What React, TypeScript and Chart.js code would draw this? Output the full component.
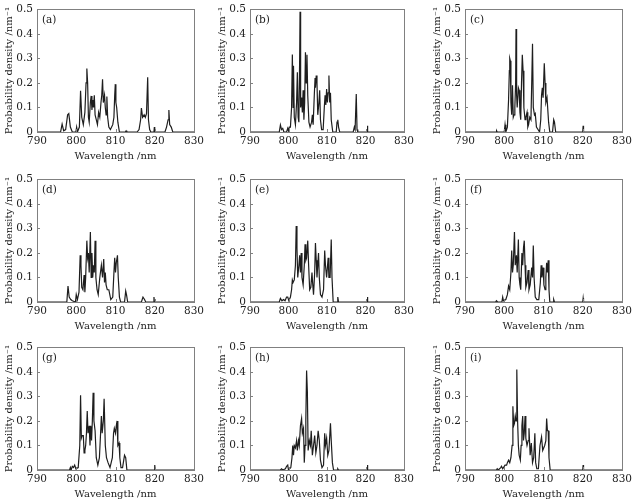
import { useEffect, useRef } from 'react';
import { Chart, registerables } from 'chart.js';

Chart.register(...registerables);

// Axis ticks shared by all nine panels
const X_TICKS = [790, 800, 810, 820, 830];
const Y_TICKS = [0, 0.1, 0.2, 0.3, 0.4, 0.5];
const PANEL_LABELS = ['(a)', '(b)', '(c)', '(d)', '(e)', '(f)', '(g)', '(h)', '(i)'];
const X_TITLE = 'Wavelength /nm';
const Y_TITLE = 'Probability density /nm\u207B\u00B9';

// Spectra: [wavelength in nm, probability density in nm^-1]
const spectrumA: [number, number][] = [
  [790, 0], [796.0, 0], [796.4, 0.032], [796.8, 0.005], [797.3, 0.01], [797.8, 0.07], [798.1, 0.075], [798.5, 0.02], [799.0, 0],
  [799.9, 0], [800.1, 0.02], [800.3, 0], [800.8, 0.02], [801.1, 0.168], [801.4, 0.06], [801.8, 0.03], [802.2, 0.08], [802.5, 0.2],
  [802.7, 0.259], [802.9, 0.2], [803.1, 0.06], [803.3, 0.04], [803.6, 0.12], [803.8, 0.147], [804.0, 0.09], [804.2, 0.13], [804.4, 0.1],
  [804.6, 0.15], [804.8, 0.07], [805.1, 0.05], [805.4, 0.03], [805.7, 0.08], [806.0, 0.06], [806.3, 0.12], [806.5, 0.15], [806.7, 0.215],
  [806.9, 0.12], [807.2, 0.15], [807.4, 0.1], [807.6, 0.07], [807.8, 0.145], [808.0, 0.06], [808.3, 0.02], [808.7, 0.01], [809.3, 0.03],
  [809.6, 0.06], [809.8, 0.15], [809.95, 0.195], [810.1, 0.12], [810.3, 0.1], [810.6, 0.04], [811.0, 0], [812.5, 0], [812.7, 0.005],
  [812.9, 0], [815.5, 0], [816.0, 0.01], [816.4, 0.05], [816.6, 0.098], [816.9, 0.06], [817.3, 0.07], [817.6, 0.06], [817.9, 0.075],
  [818.2, 0.223], [818.4, 0.05], [818.7, 0.01], [819.0, 0], [819.8, 0], [819.9, 0.02], [820.0, 0], [822.6, 0], [823.0, 0.02],
  [823.4, 0.05], [823.6, 0.09], [823.8, 0.03], [824.2, 0.02], [824.6, 0], [830, 0],
];

const spectrumB: [number, number][] = [
  [790, 0], [797.6, 0], [797.9, 0.029], [798.2, 0.01], [798.5, 0.015], [798.8, 0], [799.5, 0], [799.8, 0.015], [800.0, 0.005],
  [800.2, 0.02], [800.5, 0.02], [800.8, 0.1], [801.0, 0.316], [801.2, 0.1], [801.3, 0.27], [801.5, 0.06], [801.8, 0.03], [802.1, 0.12],
  [802.3, 0.243], [802.5, 0.06], [802.7, 0.04], [802.9, 0.3], [803.0, 0.49], [803.15, 0.1], [803.4, 0.14], [803.6, 0.08], [803.8, 0.17],
  [804.0, 0.05], [804.2, 0.12], [804.4, 0.325], [804.6, 0.2], [804.8, 0.315], [805.0, 0.15], [805.3, 0.04], [805.6, 0.02], [806.0, 0.04],
  [806.2, 0.07], [806.4, 0.03], [806.7, 0.15], [806.9, 0.22], [807.0, 0.18], [807.2, 0.23], [807.4, 0.2], [807.6, 0.07], [807.9, 0.12],
  [808.1, 0.17], [808.3, 0.05], [808.6, 0.01], [809.0, 0.01], [809.3, 0.1], [809.5, 0.15], [809.7, 0.11], [809.9, 0.175], [810.1, 0.12],
  [810.3, 0.16], [810.5, 0.23], [810.7, 0.12], [810.9, 0.16], [811.1, 0.05], [811.5, 0], [812.4, 0], [812.6, 0.04], [812.8, 0.05],
  [813.0, 0.02], [813.3, 0], [816.8, 0], [817.1, 0.02], [817.3, 0.01], [817.6, 0.155], [817.8, 0.01], [818.0, 0], [820.4, 0],
  [820.5, 0.025], [820.6, 0], [830, 0],
];

const spectrumC: [number, number][] = [
  [790, 0], [797.9, 0], [798.05, 0.005], [798.2, 0], [800.0, 0], [800.2, 0.03], [800.4, 0], [800.8, 0.02], [801.1, 0.13],
  [801.3, 0.25], [801.4, 0.3], [801.55, 0.29], [801.7, 0.12], [801.9, 0.07], [802.1, 0.19], [802.3, 0.06], [802.5, 0.07], [802.7, 0.1],
  [802.9, 0.2], [803.0, 0.42], [803.15, 0.15], [803.3, 0.1], [803.6, 0.18], [803.8, 0.17], [804.0, 0.08], [804.2, 0.05], [804.4, 0.2],
  [804.6, 0.315], [804.8, 0.25], [805.0, 0.1], [805.3, 0.05], [805.5, 0.06], [805.8, 0.08], [806.0, 0.02], [806.2, 0.03], [806.5, 0.06],
  [806.8, 0.05], [807.0, 0.2], [807.2, 0.36], [807.4, 0.1], [807.7, 0.07], [807.9, 0.075], [808.2, 0.02], [808.6, 0.01], [809.0, 0],
  [809.3, 0.05], [809.5, 0.15], [809.7, 0.18], [809.9, 0.14], [810.2, 0.28], [810.4, 0.2], [810.6, 0.12], [810.9, 0.14], [811.1, 0.14],
  [811.3, 0.04], [811.6, 0], [812.3, 0], [812.6, 0.05], [812.8, 0.04], [813.1, 0], [820.0, 0], [820.1, 0.025], [820.2, 0], [830, 0],
];

const spectrumD: [number, number][] = [
  [790, 0], [797.6, 0], [797.9, 0.065], [798.2, 0.02], [798.6, 0.01], [799.0, 0.005], [799.8, 0], [800.0, 0.03], [800.3, 0.01],
  [800.7, 0.04], [801.0, 0.19], [801.2, 0.15], [801.4, 0.06], [801.7, 0.05], [802.0, 0.11], [802.2, 0.04], [802.4, 0.1], [802.7, 0.25],
  [802.9, 0.18], [803.1, 0.2], [803.3, 0.12], [803.6, 0.285], [803.8, 0.1], [804.0, 0.2], [804.2, 0.1], [804.4, 0.15], [804.6, 0.12],
  [804.8, 0.25], [805.0, 0.1], [805.3, 0.05], [805.6, 0.03], [806.0, 0.1], [806.4, 0.15], [806.7, 0.1], [807.0, 0.175], [807.2, 0.08],
  [807.4, 0.12], [807.6, 0.07], [807.9, 0.05], [808.3, 0.05], [808.8, 0.01], [809.3, 0.02], [809.6, 0.12], [809.8, 0.18], [810.0, 0.12],
  [810.2, 0.16], [810.5, 0.19], [810.7, 0.1], [811.0, 0.02], [811.3, 0], [812.3, 0], [812.6, 0.045], [812.8, 0.03], [813.1, 0],
  [816.6, 0], [817.0, 0.02], [817.4, 0.01], [817.7, 0], [819.7, 0], [819.8, 0.02], [819.9, 0], [830, 0],
];

const spectrumE: [number, number][] = [
  [790, 0], [797.6, 0], [797.9, 0.015], [798.3, 0.005], [798.7, 0.01], [799.1, 0.005], [799.5, 0.02], [799.8, 0.02], [800.1, 0.005],
  [800.5, 0.02], [800.8, 0.05], [801.0, 0.09], [801.2, 0.08], [801.5, 0.09], [801.8, 0.15], [802.0, 0.31], [802.2, 0.22], [802.4, 0.1],
  [802.7, 0.15], [802.9, 0.19], [803.1, 0.12], [803.3, 0.2], [803.5, 0.1], [803.8, 0.07], [804.1, 0.15], [804.3, 0.235], [804.5, 0.17],
  [804.7, 0.18], [805.0, 0.25], [805.2, 0.16], [805.5, 0.05], [805.8, 0.06], [806.1, 0.12], [806.3, 0.07], [806.5, 0.03], [806.8, 0.12],
  [807.0, 0.24], [807.2, 0.17], [807.4, 0.1], [807.6, 0.15], [807.8, 0.2], [808.0, 0.1], [808.3, 0.03], [808.7, 0.02], [809.1, 0.05],
  [809.4, 0.21], [809.6, 0.15], [809.9, 0.1], [810.3, 0.18], [810.5, 0.1], [810.8, 0.1], [811.1, 0.255], [811.3, 0.1], [811.6, 0],
  [812.6, 0], [812.8, 0.02], [813.0, 0], [820.4, 0], [820.5, 0.02], [820.6, 0], [830, 0],
];

const spectrumF: [number, number][] = [
  [790, 0], [797.8, 0], [798.0, 0.005], [798.3, 0], [799.4, 0], [799.6, 0.02], [799.8, 0.005], [800.4, 0.01], [800.8, 0.03],
  [801.1, 0.065], [801.4, 0.05], [801.7, 0.12], [801.9, 0.21], [802.1, 0.12], [802.3, 0.15], [802.6, 0.285], [802.8, 0.15], [803.1, 0.19],
  [803.3, 0.12], [803.6, 0.255], [803.8, 0.1], [804.0, 0.07], [804.2, 0.05], [804.5, 0.2], [804.7, 0.15], [804.9, 0.22], [805.1, 0.25],
  [805.3, 0.15], [805.5, 0.06], [805.8, 0.08], [806.1, 0.13], [806.3, 0.05], [806.6, 0.07], [807.0, 0.14], [807.2, 0.1], [807.4, 0.23],
  [807.6, 0.1], [807.9, 0.02], [808.3, 0.01], [808.8, 0.01], [809.2, 0.08], [809.4, 0.15], [809.6, 0.1], [809.9, 0.14], [810.1, 0.07],
  [810.4, 0.05], [810.6, 0.1], [810.8, 0.16], [811.0, 0.12], [811.2, 0.17], [811.4, 0.05], [811.6, 0], [812.5, 0], [812.6, 0.01],
  [812.8, 0], [820.0, 0], [820.1, 0.015], [820.2, 0], [830, 0],
];

const spectrumG: [number, number][] = [
  [790, 0], [798.3, 0], [798.5, 0.01], [798.7, 0], [799.0, 0.015], [799.3, 0.01], [799.6, 0.02], [799.9, 0.005], [800.5, 0.01],
  [800.9, 0.1], [801.1, 0.305], [801.3, 0.13], [801.5, 0.14], [801.8, 0.14], [802.0, 0.07], [802.2, 0.08], [802.4, 0.1], [802.6, 0.15],
  [802.8, 0.24], [803.0, 0.15], [803.3, 0.18], [803.5, 0.1], [803.7, 0.18], [803.9, 0.12], [804.1, 0.2], [804.3, 0.315], [804.5, 0.2],
  [804.8, 0.16], [805.1, 0.05], [805.5, 0.02], [805.9, 0.05], [806.2, 0.15], [806.4, 0.22], [806.6, 0.15], [806.9, 0.2], [807.1, 0.29],
  [807.4, 0.1], [807.7, 0.05], [808.1, 0.03], [808.6, 0.01], [809.2, 0.05], [809.5, 0.15], [809.7, 0.17], [810.0, 0.15], [810.2, 0.18],
  [810.4, 0.2], [810.6, 0.1], [810.9, 0.11], [811.1, 0.05], [811.4, 0.01], [811.8, 0.01], [812.1, 0.04], [812.3, 0.06], [812.6, 0.05],
  [812.9, 0], [819.9, 0], [820.0, 0.02], [820.1, 0], [830, 0],
];

const spectrumH: [number, number][] = [
  [790, 0], [797.9, 0], [798.2, 0.005], [798.5, 0], [799.2, 0.005], [799.5, 0.015], [799.8, 0.02], [800.0, 0], [800.6, 0.01],
  [800.9, 0.05], [801.1, 0.1], [801.3, 0.06], [801.5, 0.1], [801.8, 0.09], [802.1, 0.12], [802.3, 0.08], [802.6, 0.12], [802.8, 0.1],
  [803.1, 0.18], [803.4, 0.21], [803.6, 0.15], [803.9, 0.17], [804.1, 0.03], [804.3, 0.1], [804.5, 0.2], [804.7, 0.405], [804.9, 0.32],
  [805.1, 0.08], [805.4, 0.12], [805.7, 0.1], [805.9, 0.16], [806.2, 0.06], [806.5, 0.1], [806.8, 0.14], [807.1, 0.07], [807.4, 0.1],
  [807.7, 0.16], [808.0, 0.12], [808.3, 0.04], [808.7, 0.01], [809.1, 0.02], [809.4, 0.15], [809.6, 0.1], [809.9, 0.13], [810.2, 0.06],
  [810.5, 0.08], [810.9, 0.19], [811.1, 0.12], [811.4, 0.03], [811.7, 0], [812.7, 0], [812.8, 0.005], [813.0, 0], [820.4, 0],
  [820.5, 0.02], [820.6, 0], [830, 0],
];

const spectrumI: [number, number][] = [
  [790, 0], [798.0, 0], [798.2, 0.005], [798.5, 0], [799.1, 0.01], [799.3, 0.015], [799.6, 0.005], [800.0, 0.015], [800.2, 0.02],
  [800.6, 0.02], [800.8, 0.03], [801.1, 0.04], [801.4, 0.03], [801.7, 0.05], [802.0, 0.1], [802.2, 0.26], [802.4, 0.18], [802.6, 0.19],
  [802.8, 0.22], [803.0, 0.2], [803.2, 0.41], [803.4, 0.2], [803.6, 0.1], [803.8, 0.06], [804.1, 0.04], [804.3, 0.1], [804.5, 0.18],
  [804.7, 0.22], [804.9, 0.12], [805.1, 0.15], [805.3, 0.22], [805.5, 0.13], [805.8, 0.1], [806.1, 0.12], [806.3, 0.17], [806.6, 0.06],
  [806.9, 0.11], [807.2, 0.03], [807.5, 0.05], [807.8, 0.15], [808.0, 0.03], [808.3, 0.005], [808.7, 0.005], [809.1, 0.1], [809.5, 0.135],
  [809.8, 0.08], [810.3, 0.1], [810.6, 0.12], [810.8, 0.21], [811.0, 0.16], [811.2, 0.16], [811.4, 0.05], [811.7, 0], [820.0, 0],
  [820.1, 0.02], [820.2, 0], [830, 0],
];

const SPECTRA = [
  spectrumA, spectrumB, spectrumC,
  spectrumD, spectrumE, spectrumF,
  spectrumG, spectrumH, spectrumI,
];

// Plot-area placement on the page, in pixels: [left, right] per column, [top, bottom] per row
const COLUMNS: [number, number][] = [[37, 194], [250, 404], [465, 622]];
const ROWS: [number, number][] = [[7, 132], [177, 302], [345, 470]];

const Y_AXIS_W = 36;
const X_AXIS_H = 34;
const PAD_TOP = 8;
const PAD_RIGHT = 14;

const FONT_FAMILY = '"DejaVu Serif", "Liberation Serif", serif';
const TEXT_COLOR = '#1c1c1c';
const FRAME_COLOR = '#808080';
const LINE_COLOR = '#1e1e1e';

const framePlugin = {
  id: 'frame',
  afterDatasetsDraw(chart: any) {
    const { ctx, chartArea } = chart;
    const { left, right, top, bottom } = chartArea;
    const xs = chart.scales.x;
    const ys = chart.scales.y;
    ctx.save();
    ctx.strokeStyle = FRAME_COLOR;
    ctx.lineWidth = 1;
    ctx.strokeRect(Math.round(left) + 0.5, Math.round(top) + 0.5, Math.round(right - left), Math.round(bottom - top));
    ctx.beginPath();
    for (const v of X_TICKS) {
      const px = Math.round(xs.getPixelForValue(v)) + 0.5;
      ctx.moveTo(px, bottom);
      ctx.lineTo(px, bottom - 3);
    }
    for (const v of Y_TICKS) {
      const py = Math.round(ys.getPixelForValue(v)) + 0.5;
      ctx.moveTo(left, py);
      ctx.lineTo(left + 3, py);
    }
    ctx.stroke();
    const label = chart.options.plugins.frame?.label;
    if (label) {
      ctx.fillStyle = TEXT_COLOR;
      ctx.font = `10.5px ${FONT_FAMILY}`;
      ctx.textBaseline = 'top';
      ctx.textAlign = 'left';
      ctx.fillText(label, left + 5, top + 6);
    }
    ctx.restore();
  },
};

function Panel({ index }: { index: number }) {
  const ref = useRef<HTMLCanvasElement | null>(null);
  const [left, right] = COLUMNS[index % 3];
  const [top, bottom] = ROWS[Math.floor(index / 3)];
  const width = right - left + Y_AXIS_W + PAD_RIGHT;
  const height = bottom - top + PAD_TOP + X_AXIS_H;

  useEffect(() => {
    if (!ref.current) return;
    const tickFont = { family: FONT_FAMILY, size: 10.5 };
    const titleFont = { family: FONT_FAMILY, size: 10 };
    const chart = new Chart(ref.current, {
      type: 'line',
      data: {
        datasets: [
          {
            data: SPECTRA[index].map(([x, y]) => ({ x, y })),
            borderColor: LINE_COLOR,
            borderWidth: 1.2,
            pointRadius: 0,
            tension: 0,
            fill: false,
          },
        ],
      },
      options: {
        animation: false,
        responsive: false,
        events: [],
        layout: { padding: { top: PAD_TOP, right: PAD_RIGHT, left: 0, bottom: 0 } },
        plugins: {
          legend: { display: false },
          tooltip: { enabled: false },
          frame: { label: PANEL_LABELS[index] },
        } as any,
        scales: {
          x: {
            type: 'linear',
            min: 790,
            max: 830,
            afterBuildTicks: (s: any) => {
              s.ticks = X_TICKS.map((value) => ({ value }));
            },
            afterFit: (s: any) => {
              s.height = X_AXIS_H;
            },
            grid: { display: false, drawTicks: false },
            border: { display: false },
            ticks: {
              padding: 3,
              maxRotation: 0,
              autoSkip: false,
              color: TEXT_COLOR,
              font: tickFont,
              callback: (v: any) => String(v),
            },
            title: {
              display: true,
              text: X_TITLE,
              color: TEXT_COLOR,
              font: titleFont,
              padding: { top: 0, bottom: 4 },
            },
          },
          y: {
            type: 'linear',
            min: 0,
            max: 0.5,
            afterBuildTicks: (s: any) => {
              s.ticks = Y_TICKS.map((value) => ({ value }));
            },
            afterFit: (s: any) => {
              s.width = Y_AXIS_W;
            },
            grid: { display: false, drawTicks: false },
            border: { display: false },
            ticks: {
              padding: 4,
              autoSkip: false,
              color: TEXT_COLOR,
              font: tickFont,
              callback: (v: any) => (v === 0 ? '0' : Number(v).toFixed(1)),
            },
            title: {
              display: true,
              text: Y_TITLE,
              color: TEXT_COLOR,
              font: titleFont,
              padding: { top: 2, bottom: 0 },
            },
          },
        },
      },
      plugins: [framePlugin],
    });
    return () => chart.destroy();
  }, [index]);

  return (
    <canvas
      ref={ref}
      width={width}
      height={height}
      style={{
        position: 'absolute',
        left: left - Y_AXIS_W,
        top: top - PAD_TOP,
        width,
        height,
      }}
    />
  );
}

export default function App() {
  return (
    <div
      style={{
        position: 'fixed',
        left: 0,
        top: 0,
        width: 633,
        height: 500,
        background: '#ffffff',
        overflow: 'hidden',
      }}
    >
      {SPECTRA.map((_, i) => (
        <Panel key={i} index={i} />
      ))}
    </div>
  );
}
